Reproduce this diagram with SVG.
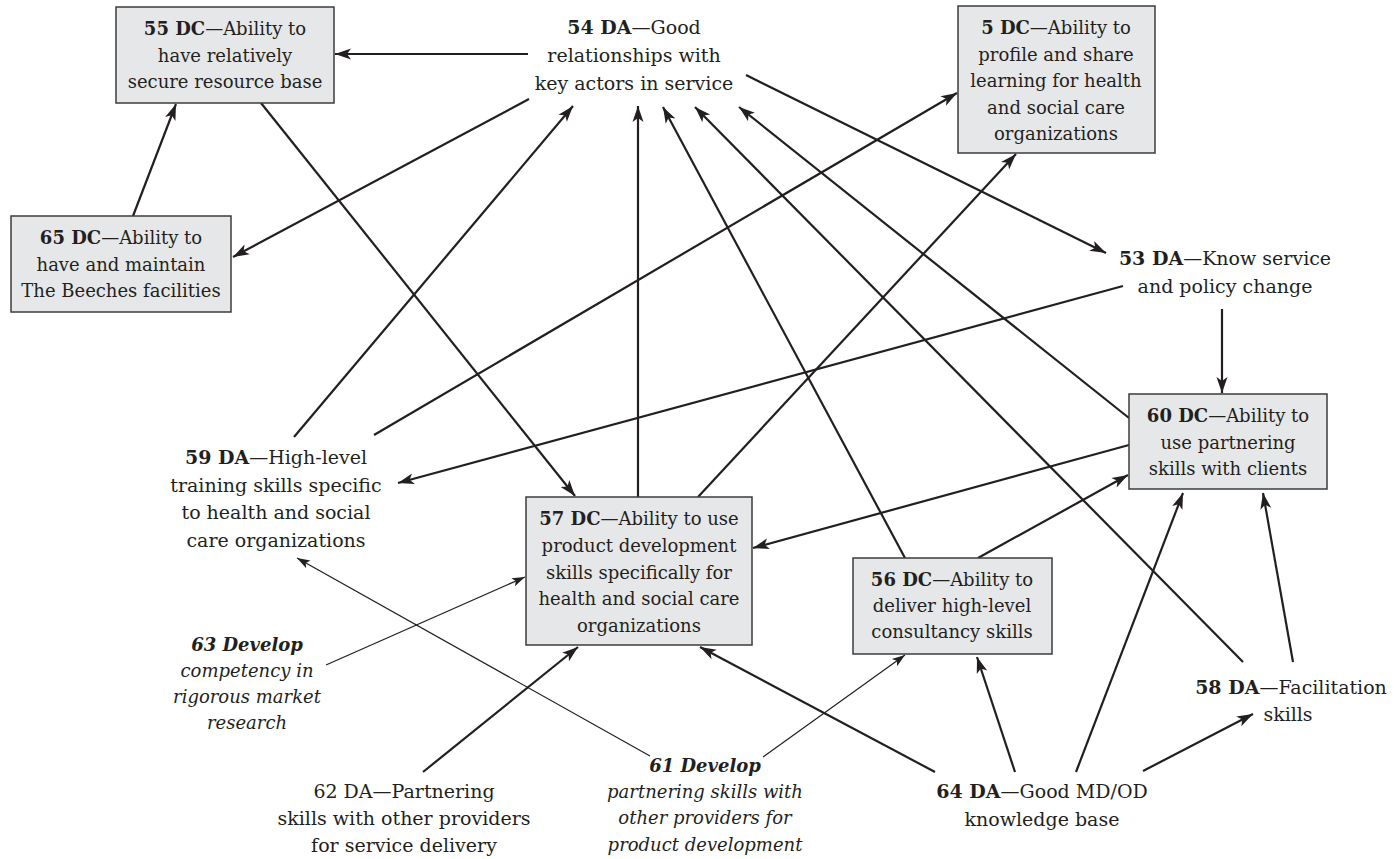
<svg xmlns="http://www.w3.org/2000/svg" width="1398" height="859" viewBox="0 0 1398 859">
  <style>
    .box { fill: #e6e7e8; stroke: #3c3c3c; stroke-width: 1.5; }
    .t { font-family: "DejaVu Serif", "Liberation Serif", serif; font-size: 18px; fill: #231f20; text-anchor: middle; }
    .lbl { font-size: 19px; }
    .it { font-style: italic; font-size: 18px; }
    .b { font-weight: bold; }
    .edge { fill: none; stroke: #231f20; stroke-width: 2.2; marker-end: url(#arr); }
    .thin { fill: none; stroke: #231f20; stroke-width: 1.2; marker-end: url(#arrThin); }
  </style>
  <defs>
    <marker id="arr" viewBox="-17 -7 18 14" refX="0" refY="0" markerWidth="18" markerHeight="14" markerUnits="userSpaceOnUse" orient="auto">
      <path d="M0,0 L-16,-5.5 L-12,0 L-16,5.5 Z" fill="#231f20"/>
    </marker>
    <marker id="arrThin" viewBox="-14 -6 15 12" refX="0" refY="0" markerWidth="15" markerHeight="12" markerUnits="userSpaceOnUse" orient="auto">
      <path d="M0,0 L-13,-4.5 L-10,0 L-13,4.5 Z" fill="#231f20"/>
    </marker>
  </defs>

  <rect width="1398" height="859" fill="#ffffff"/>

  <!-- connectors -->
  <g id="connectors">
    <path class="edge" d="M528,54 L335,54"/>
    <path class="edge" d="M133,216 L176,104"/>
    <path class="edge" d="M529,99 L233,257"/>
    <path class="edge" d="M261,103 L575,496"/>
    <path class="edge" d="M746,75 L1106,253"/>
    <path class="edge" d="M1222,309 L1222,393"/>
    <path class="edge" d="M294,437 L573,106"/>
    <path class="edge" d="M638,497 L638,106"/>
    <path class="edge" d="M905,558 L663,107"/>
    <path class="edge" d="M1243,662 L695,107"/>
    <path class="edge" d="M1129,418 L739,107"/>
    <path class="edge" d="M374,435 L957,93"/>
    <path class="edge" d="M698,497 L1016,154"/>
    <path class="edge" d="M1123,286 L398,483"/>
    <path class="edge" d="M1129,445 L753,548"/>
    <path class="edge" d="M978,558 L1128,475"/>
    <path class="edge" d="M1076,772 L1183,493"/>
    <path class="edge" d="M1293,662 L1263,493"/>
    <path class="edge" d="M1015,772 L977,657"/>
    <path class="edge" d="M1143,771 L1253,714"/>
    <path class="edge" d="M935,772 L700,647"/>
    <path class="edge" d="M423,772 L578,647"/>
    <path class="thin" d="M326,665 L525,577"/>
    <path class="thin" d="M650,756 L297,558"/>
    <path class="thin" d="M763,757 L905,655"/>
  </g>

  <!-- boxed capabilities -->
  <g id="n55">
    <rect class="box" x="116" y="7" width="218" height="96"/>
    <text class="t" x="225" y="35"><tspan class="b">55 DC</tspan>—Ability to</text>
    <text class="t" x="225" y="61.5">have relatively</text>
    <text class="t" x="225" y="88">secure resource base</text>
  </g>
  <g id="n65">
    <rect class="box" x="11" y="216" width="220" height="96"/>
    <text class="t" x="121" y="244"><tspan class="b">65 DC</tspan>—Ability to</text>
    <text class="t" x="121" y="270.5">have and maintain</text>
    <text class="t" x="121" y="297">The Beeches facilities</text>
  </g>
  <g id="n5">
    <rect class="box" x="958" y="6" width="197" height="147"/>
    <text class="t" x="1056" y="34"><tspan class="b">5 DC</tspan>—Ability to</text>
    <text class="t" x="1056" y="60.5">profile and share</text>
    <text class="t" x="1056" y="87">learning for health</text>
    <text class="t" x="1056" y="113.5">and social care</text>
    <text class="t" x="1056" y="140">organizations</text>
  </g>
  <g id="n60">
    <rect class="box" x="1129" y="394" width="198" height="95"/>
    <text class="t" x="1228" y="422"><tspan class="b">60 DC</tspan>—Ability to</text>
    <text class="t" x="1228" y="448.5">use partnering</text>
    <text class="t" x="1228" y="475">skills with clients</text>
  </g>
  <g id="n57">
    <rect class="box" x="526" y="497" width="226" height="148"/>
    <text class="t" x="639" y="525"><tspan class="b">57 DC</tspan>—Ability to use</text>
    <text class="t" x="639" y="552">product development</text>
    <text class="t" x="639" y="578.5">skills specifically for</text>
    <text class="t" x="639" y="605">health and social care</text>
    <text class="t" x="639" y="632">organizations</text>
  </g>
  <g id="n56">
    <rect class="box" x="853" y="558" width="199" height="96"/>
    <text class="t" x="952" y="586"><tspan class="b">56 DC</tspan>—Ability to</text>
    <text class="t" x="952" y="612">deliver high-level</text>
    <text class="t" x="952" y="638">consultancy skills</text>
  </g>

  <!-- free labels -->
  <g id="n54">
    <text class="t lbl" x="634" y="34"><tspan class="b">54 DA</tspan>—Good</text>
    <text class="t lbl" x="634" y="62">relationships with</text>
    <text class="t lbl" x="634" y="90">key actors in service</text>
  </g>
  <g id="n53">
    <text class="t lbl" x="1225" y="265"><tspan class="b">53 DA</tspan>—Know service</text>
    <text class="t lbl" x="1225" y="293">and policy change</text>
  </g>
  <g id="n59">
    <text class="t lbl" x="276" y="464"><tspan class="b">59 DA</tspan>—High-level</text>
    <text class="t lbl" x="276" y="492">training skills specific</text>
    <text class="t lbl" x="276" y="519">to health and social</text>
    <text class="t lbl" x="276" y="547">care organizations</text>
  </g>
  <g id="n63">
    <text class="t it" x="247" y="651"><tspan class="b">63 Develop</tspan></text>
    <text class="t it" x="247" y="677">competency in</text>
    <text class="t it" x="247" y="703">rigorous market</text>
    <text class="t it" x="247" y="729">research</text>
  </g>
  <g id="n62">
    <text class="t lbl" x="404" y="798">62 DA—Partnering</text>
    <text class="t lbl" x="404" y="825">skills with other providers</text>
    <text class="t lbl" x="404" y="852">for service delivery</text>
  </g>
  <g id="n61">
    <text class="t it" x="705" y="772"><tspan class="b">61 Develop</tspan></text>
    <text class="t it" x="705" y="798">partnering skills with</text>
    <text class="t it" x="705" y="824">other providers for</text>
    <text class="t it" x="705" y="851">product development</text>
  </g>
  <g id="n64">
    <text class="t lbl" x="1042" y="798"><tspan class="b">64 DA</tspan>—Good MD/OD</text>
    <text class="t lbl" x="1042" y="826">knowledge base</text>
  </g>
  <g id="n58">
    <text class="t lbl" x="1291" y="694"><tspan class="b">58 DA</tspan>—Facilitation</text>
    <text class="t lbl" x="1288" y="721">skills</text>
  </g>
</svg>
